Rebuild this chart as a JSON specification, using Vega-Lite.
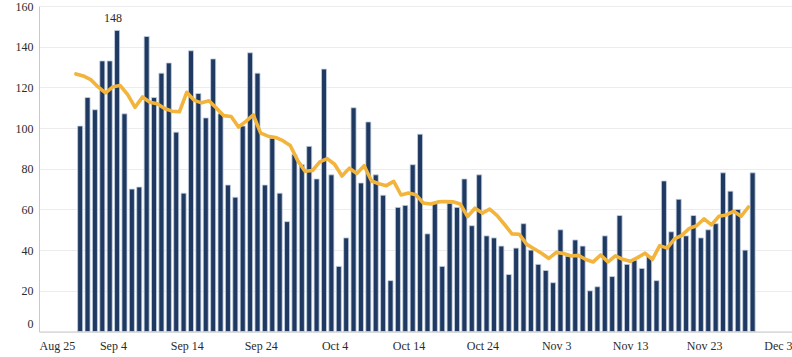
{
  "$schema": "https://vega.github.io/schema/vega-lite/v6.json",
  "width": 753,
  "height": 325.5,
  "autosize": {"type": "none"},
  "padding": {"left": 39, "top": 6, "right": 0, "bottom": 25.5},
  "background": "white",
  "config": {
    "view": {"stroke": null},
    "font": "Liberation Serif",
    "axis": {"labelFont": "Liberation Serif", "labelFontSize": 12, "labelColor": "#2b2b2b", "titleFont": "Liberation Serif"}
  },
  "data": {"values": [
    {"date": "2020-08-30", "cases": 101, "avg": 126.6},
    {"date": "2020-08-31", "cases": 115, "avg": 125.6},
    {"date": "2020-09-01", "cases": 109, "avg": 123.8},
    {"date": "2020-09-02", "cases": 133, "avg": 120.2},
    {"date": "2020-09-03", "cases": 133, "avg": 117.3},
    {"date": "2020-09-04", "cases": 148, "avg": 120.3},
    {"date": "2020-09-05", "cases": 107, "avg": 120.9},
    {"date": "2020-09-06", "cases": 70, "avg": 116.4},
    {"date": "2020-09-07", "cases": 71, "avg": 110.2},
    {"date": "2020-09-08", "cases": 145, "avg": 115.3},
    {"date": "2020-09-09", "cases": 115, "avg": 112.7},
    {"date": "2020-09-10", "cases": 127, "avg": 111.9},
    {"date": "2020-09-11", "cases": 132, "avg": 109.6},
    {"date": "2020-09-12", "cases": 98, "avg": 108.3},
    {"date": "2020-09-13", "cases": 68, "avg": 108.0},
    {"date": "2020-09-14", "cases": 138, "avg": 117.6},
    {"date": "2020-09-15", "cases": 117, "avg": 113.6},
    {"date": "2020-09-16", "cases": 105, "avg": 112.4},
    {"date": "2020-09-17", "cases": 134, "avg": 113.4},
    {"date": "2020-09-18", "cases": 107, "avg": 109.9},
    {"date": "2020-09-19", "cases": 72, "avg": 106.1},
    {"date": "2020-09-20", "cases": 66, "avg": 105.7},
    {"date": "2020-09-21", "cases": 101, "avg": 100.5},
    {"date": "2020-09-22", "cases": 137, "avg": 103.3},
    {"date": "2020-09-23", "cases": 127, "avg": 106.5},
    {"date": "2020-09-24", "cases": 72, "avg": 97.5},
    {"date": "2020-09-25", "cases": 95, "avg": 96.0},
    {"date": "2020-09-26", "cases": 68, "avg": 95.4},
    {"date": "2020-09-27", "cases": 54, "avg": 93.8},
    {"date": "2020-09-28", "cases": 87, "avg": 91.4},
    {"date": "2020-09-29", "cases": 82, "avg": 84.1},
    {"date": "2020-09-30", "cases": 91, "avg": 78.8},
    {"date": "2020-10-01", "cases": 75, "avg": 79.1},
    {"date": "2020-10-02", "cases": 129, "avg": 83.4},
    {"date": "2020-10-03", "cases": 77, "avg": 85.0},
    {"date": "2020-10-04", "cases": 32, "avg": 82.2},
    {"date": "2020-10-05", "cases": 46, "avg": 76.4},
    {"date": "2020-10-06", "cases": 110, "avg": 80.3},
    {"date": "2020-10-07", "cases": 73, "avg": 77.7},
    {"date": "2020-10-08", "cases": 103, "avg": 81.5},
    {"date": "2020-10-09", "cases": 77, "avg": 74.0},
    {"date": "2020-10-10", "cases": 67, "avg": 72.6},
    {"date": "2020-10-11", "cases": 25, "avg": 71.7},
    {"date": "2020-10-12", "cases": 61, "avg": 73.8},
    {"date": "2020-10-13", "cases": 62, "avg": 67.1},
    {"date": "2020-10-14", "cases": 82, "avg": 68.1},
    {"date": "2020-10-15", "cases": 97, "avg": 67.2},
    {"date": "2020-10-16", "cases": 48, "avg": 63.2},
    {"date": "2020-10-17", "cases": 63, "avg": 62.7},
    {"date": "2020-10-18", "cases": 32, "avg": 63.7},
    {"date": "2020-10-19", "cases": 63, "avg": 63.9},
    {"date": "2020-10-20", "cases": 61, "avg": 63.8},
    {"date": "2020-10-21", "cases": 75, "avg": 62.7},
    {"date": "2020-10-22", "cases": 52, "avg": 56.5},
    {"date": "2020-10-23", "cases": 77, "avg": 60.6},
    {"date": "2020-10-24", "cases": 47, "avg": 58.2},
    {"date": "2020-10-25", "cases": 46, "avg": 60.2},
    {"date": "2020-10-26", "cases": 42, "avg": 57.0},
    {"date": "2020-10-27", "cases": 28, "avg": 52.6},
    {"date": "2020-10-28", "cases": 41, "avg": 48.0},
    {"date": "2020-10-29", "cases": 53, "avg": 47.8},
    {"date": "2020-10-30", "cases": 40, "avg": 42.8},
    {"date": "2020-10-31", "cases": 33, "avg": 40.7},
    {"date": "2020-11-01", "cases": 30, "avg": 38.5},
    {"date": "2020-11-02", "cases": 24, "avg": 35.9},
    {"date": "2020-11-03", "cases": 50, "avg": 38.9},
    {"date": "2020-11-04", "cases": 37, "avg": 38.3},
    {"date": "2020-11-05", "cases": 45, "avg": 37.1},
    {"date": "2020-11-06", "cases": 42, "avg": 37.4},
    {"date": "2020-11-07", "cases": 20, "avg": 35.4},
    {"date": "2020-11-08", "cases": 22, "avg": 34.2},
    {"date": "2020-11-09", "cases": 47, "avg": 37.6},
    {"date": "2020-11-10", "cases": 27, "avg": 34.2},
    {"date": "2020-11-11", "cases": 57, "avg": 37.2},
    {"date": "2020-11-12", "cases": 33, "avg": 35.5},
    {"date": "2020-11-13", "cases": 35, "avg": 34.5},
    {"date": "2020-11-14", "cases": 31, "avg": 36.3},
    {"date": "2020-11-15", "cases": 37, "avg": 38.5},
    {"date": "2020-11-16", "cases": 25, "avg": 35.4},
    {"date": "2020-11-17", "cases": 74, "avg": 42.2},
    {"date": "2020-11-18", "cases": 49, "avg": 41.0},
    {"date": "2020-11-19", "cases": 65, "avg": 45.5},
    {"date": "2020-11-20", "cases": 47, "avg": 47.3},
    {"date": "2020-11-21", "cases": 57, "avg": 50.7},
    {"date": "2020-11-22", "cases": 46, "avg": 52.0},
    {"date": "2020-11-23", "cases": 50, "avg": 55.4},
    {"date": "2020-11-24", "cases": 53, "avg": 52.4},
    {"date": "2020-11-25", "cases": 78, "avg": 56.6},
    {"date": "2020-11-26", "cases": 69, "avg": 57.3},
    {"date": "2020-11-27", "cases": 60, "avg": 59.1},
    {"date": "2020-11-28", "cases": 40, "avg": 56.6},
    {"date": "2020-11-29", "cases": 78, "avg": 61.2}
  ]},
  "encoding": {
    "x": {
      "field": "date",
      "timeUnit": "utcyearmonthdate",
      "type": "temporal",
      "title": null,
      "scale": {
        "domain": [
          {"year": 2020, "month": 8, "date": 25, "utc": true},
          {"year": 2020, "month": 12, "date": 4, "hours": 21, "minutes": 36, "utc": true}
        ]
      },
      "axis": {
        "format": "%b %-d",
        "values": [
          {"year": 2020, "month": 8, "date": 25, "utc": true},
          {"year": 2020, "month": 9, "date": 4, "utc": true},
          {"year": 2020, "month": 9, "date": 14, "utc": true},
          {"year": 2020, "month": 9, "date": 24, "utc": true},
          {"year": 2020, "month": 10, "date": 4, "utc": true},
          {"year": 2020, "month": 10, "date": 14, "utc": true},
          {"year": 2020, "month": 10, "date": 24, "utc": true},
          {"year": 2020, "month": 11, "date": 3, "utc": true},
          {"year": 2020, "month": 11, "date": 13, "utc": true},
          {"year": 2020, "month": 11, "date": 23, "utc": true},
          {"year": 2020, "month": 12, "date": 3, "utc": true}
        ],
        "ticks": false,
        "grid": false,
        "labelPadding": 9,
        "labelFlush": true,
        "labelOverlap": false,
        "domainColor": "#c9c9c9",
        "domainWidth": 1
      }
    }
  },
  "layer": [
    {
      "mark": {"type": "bar", "color": "#1f3961", "stroke": "#c7d3e4", "strokeWidth": 0.8, "width": {"band": 0.82}},
      "encoding": {
        "y": {
          "field": "cases",
          "type": "quantitative",
          "title": null,
          "scale": {"domain": [0, 160], "nice": false},
          "axis": {
            "values": [0, 20, 40, 60, 80, 100, 120, 140, 160],
            "ticks": false,
            "labelPadding": 6,
            "gridColor": "#ececec",
            "gridWidth": 1,
            "domainColor": "#c9c9c9",
            "labelOffset": {"condition": {"test": "datum.value === 0", "value": -8}, "value": 0}
          }
        }
      }
    },
    {
      "mark": {"type": "line", "color": "#f2b43a", "strokeWidth": 3.6, "strokeJoin": "round", "strokeCap": "round"},
      "encoding": {
        "y": {"field": "avg", "type": "quantitative"}
      }
    },
    {
      "transform": [{"filter": "datum.cases === 148"}],
      "mark": {"type": "text", "baseline": "bottom", "dy": -5, "fontSize": 12, "color": "#2b2b2b", "font": "Liberation Serif", "timeUnitBandPosition": 0.5},
      "encoding": {
        "y": {"field": "cases", "type": "quantitative"},
        "text": {"field": "cases", "type": "quantitative"}
      }
    }
  ]
}
